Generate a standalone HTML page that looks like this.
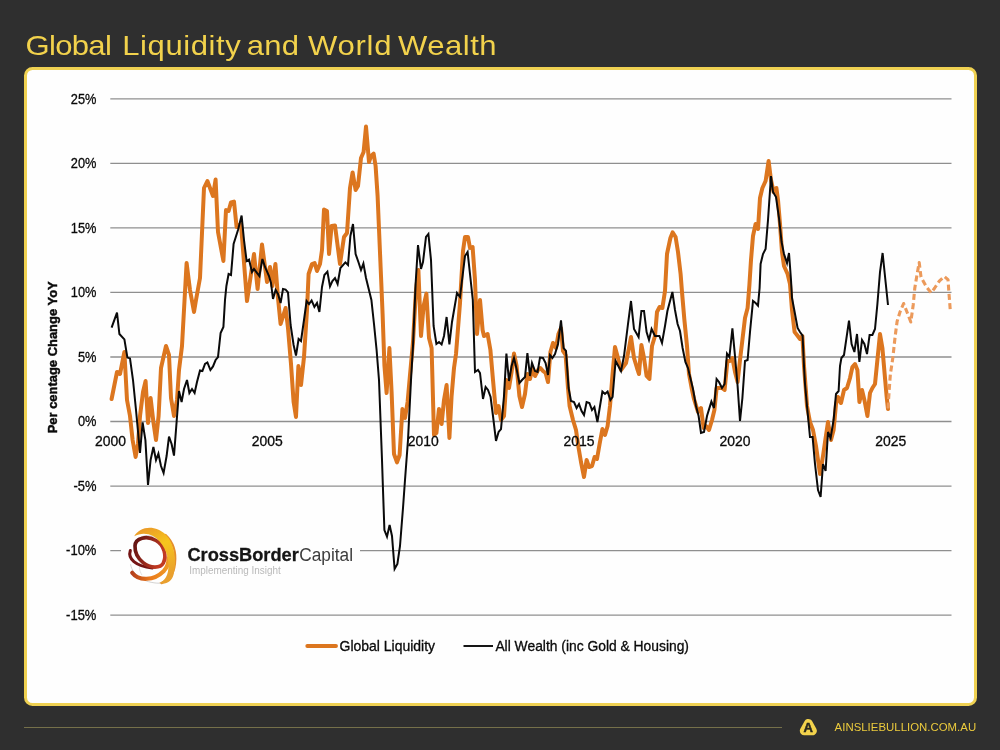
<!DOCTYPE html>
<html lang="en">
<head>
<meta charset="utf-8">
<title>Global Liquidity and World Wealth</title>
<style>
html,body{margin:0;padding:0;}
body{width:1000px;height:750px;overflow:hidden;background:#2f2f2f;font-family:"Liberation Sans","DejaVu Sans",sans-serif;position:relative;}
.title-wrap{margin:0;padding:0;position:absolute;left:0;top:0;width:1000px;height:66px;font-size:0;line-height:0;font-weight:400;}
.title{position:absolute;left:0;top:0;width:1000px;height:66px;}
.title text{font-family:"Liberation Sans",sans-serif;font-size:27px;font-weight:400;fill:#f2d24c;}
.panel{position:absolute;box-sizing:border-box;left:23.5px;top:67.4px;width:953.1px;height:638.3px;border:3px solid #efd152;border-radius:8.5px;background:#fefefe;}
.chart{position:absolute;left:0;top:0;width:1000px;height:750px;}
.chart text{font-family:"Liberation Sans","DejaVu Sans",sans-serif;font-size:14.1px;fill:#0a0a0a;stroke:#0a0a0a;stroke-width:0.3px;}
.grid line{stroke:#8f8f8f;stroke-width:1.4;}
.footer-line{position:absolute;left:24px;top:726.9px;width:758px;height:1px;background:#75704a;}
.footer-text{position:absolute;left:834.6px;top:718.3px;font-size:11.4px;line-height:18px;color:#eccb3d;letter-spacing:0.02px;white-space:nowrap;}
.footer-icon{position:absolute;left:796px;top:714px;width:26px;height:26px;}
</style>
</head>
<body>
<h1 class="title-wrap"><svg class="title" viewBox="0 0 1000 66"><text y="55.5" transform="scale(1.15 1)" xml:space="preserve"><tspan x="22.26" textLength="74.96" lengthAdjust="spacing">Global</tspan><tspan> </tspan><tspan x="106.26" textLength="103.13" lengthAdjust="spacing">Liquidity</tspan><tspan> </tspan><tspan x="214.61" textLength="45.39" lengthAdjust="spacing">and</tspan><tspan> </tspan><tspan x="267.83" textLength="72.52" lengthAdjust="spacing">World</tspan><tspan> </tspan><tspan x="346.09" textLength="85.74" lengthAdjust="spacing">Wealth</tspan></text></svg></h1>
<div class="panel"></div>
<svg class="chart" viewBox="0 0 1000 750">
<g class="grid"><line x1="110.3" x2="951.5" y1="98.9" y2="98.9"/><line x1="110.3" x2="951.5" y1="163.4" y2="163.4"/><line x1="110.3" x2="951.5" y1="227.9" y2="227.9"/><line x1="110.3" x2="951.5" y1="292.4" y2="292.4"/><line x1="110.3" x2="951.5" y1="357.0" y2="357.0"/><line x1="110.3" x2="951.5" y1="421.5" y2="421.5"/><line x1="110.3" x2="951.5" y1="486.1" y2="486.1"/><line x1="110.3" x2="951.5" y1="550.6" y2="550.6"/><line x1="110.3" x2="951.5" y1="615.1" y2="615.1"/></g>
<g class="ylabels"><text x="70.8" y="103.65" textLength="25.6" lengthAdjust="spacingAndGlyphs">25%</text><text x="70.8" y="168.15" textLength="25.6" lengthAdjust="spacingAndGlyphs">20%</text><text x="70.8" y="232.65" textLength="25.6" lengthAdjust="spacingAndGlyphs">15%</text><text x="70.8" y="297.15" textLength="25.6" lengthAdjust="spacingAndGlyphs">10%</text><text x="77.9" y="361.75" textLength="18.5" lengthAdjust="spacingAndGlyphs">5%</text><text x="77.9" y="426.25" textLength="18.5" lengthAdjust="spacingAndGlyphs">0%</text><text x="73.4" y="490.85" textLength="23.0" lengthAdjust="spacingAndGlyphs">-5%</text><text x="66.1" y="555.35" textLength="30.3" lengthAdjust="spacingAndGlyphs">-10%</text><text x="66.1" y="619.85" textLength="30.3" lengthAdjust="spacingAndGlyphs">-15%</text></g>
<text transform="translate(56.7 357.3) rotate(-90)" text-anchor="middle" style="font-weight:700;font-size:13.4px;stroke-width:0.45px" textLength="152" lengthAdjust="spacingAndGlyphs">Per centage Change YoY</text>
<polyline fill="none" stroke="#dc761f" stroke-width="4" stroke-linejoin="round" stroke-linecap="round" points="111.6,399 117,372 120,374 124.4,352 127,400 130,416 132.6,440 135.6,457 138,444 140,416 143,392 145.6,381 148,423 150.6,398 153.4,422 156,440 158.6,416 161,368 166,346 169,355 171,398 174,416 177,400 179,370 182,346 186.6,263 190,290 194,312 196,300 200,278 204,188 207.4,181 213,196 215.6,179.6 218,232 223.4,261 226,210 228.6,211 231,202.4 234,201.6 236.6,227 241,224 247,301 254,254 257.6,289 262,244.4 267,282 270,267 272.4,286 275.4,264 278,298 280.6,324 285.6,308 288,328 291,364 293.6,402 296,417 298.4,366 301,385 304,357 307,310 308.6,274 312,264 314.6,263 317,271 320,264 322,250 324,209.6 327,211 329,254 331.6,226 335,225.6 340,264 344,237 347,233 350,188 352.6,172.4 355.6,190 358,186 361,158 363.6,152 366,126.6 369,162 371,156 373.6,153.6 375.6,166 377.6,196 379,229 381,276 382.6,314 384.4,365 386.6,393 389.4,348 391.6,392 394,454 397,462.4 399.6,455 402.4,409 405,418 407.6,402 410,375 413,342 416,290 418.4,270 421,336 423.6,306 426.4,293.6 429,338 431.6,348 434,435 436.4,433 439,409 441.6,424 444,400 446.6,385 449.4,438 451.6,396 454,368 456,354 460,303 463,251 465,237 468,237 470,248 472.6,247 475,280 477,334 480,300 482.6,330 484,336 487.6,334 490.4,350 493,380 496,413 498.6,406 501,420 504,416 506.4,380 509,388 511.6,372 514,353.6 516.6,366 519.4,396 522,407 525,394 527.4,374 530,379 532.4,368 535,376 538,370 540.4,368 543,371 545.6,373 548,382 550.4,352 553,343 556,348 558.4,334 561,328 563,351 565.6,355 568,388 569.6,406 573,420 576,430 578.6,448 581,462 584,477 586.6,460 589,467 592,466 594.6,457 597,459 599.6,444 602.4,429 605,435 607.6,426 610,406 612.4,376 615,347 618,358 621,370 626,363 629,348 631,337 634,358 637,368 639,374 641.4,345 644,358 646.6,376 649.4,379 652,346 655,336 657,312 659.6,307 662.4,308 665,291 667,254 670.4,238 672.6,232.4 675.6,237 678,252 680.6,274 682,292 684.4,320 687,346 689,374 691.6,388 694,399 698,412 701,408 703.6,428 706,426 709,430 712,420 714.4,410 716.6,388 719,388 722,388 724.6,390 727.4,361 730,361 732.4,358 735,372 737.6,382 740,360 742.4,340 745,318 747.6,308 749.4,285 751,260 753,236 755.6,224 758,229 760,198 762.4,188 765.6,181 768.6,161 771,180 773.6,192 776.4,188 778,200 780,224 782,252 784,266 787.6,274 790,284 792,310 794.6,332 797,335 800,339 802.4,336 804,366 806,392 807,406 810,422 813,430 816,446 820,474 823,456 825.6,438 828,422 831,440 833.6,430 836,404 838,397 841,403 844,390 847,388 850,378 852.4,367 855,364 857.4,370 859.4,402 862,390 864.4,400 867.4,416 870,393 872.4,388 875,384 877.4,360 880,334 882.4,348 885,378 886.6,396 888,409"/>
<polyline fill="none" stroke="#ec9a5b" stroke-width="3.1" stroke-linejoin="round" stroke-dasharray="6 3.3" points="888,408.5 889.2,390 890.4,374 892.8,358 895.2,336 897.1,321.5 900,312 903.6,303.5 907,312 910.8,322 913.2,305 914.8,288 916.8,276 919.2,262.5 921,277 926.4,286.8 931.2,292.8 934.7,288 939.5,280.8 944.3,276.5 948,279.6 949.1,295 950.3,310.7"/>
<polyline fill="none" stroke="#0a0a0a" stroke-width="2" stroke-linejoin="miter" points="111.6,327.6 117,312.6 119.4,334 124.4,339.4 127.4,357.6 130,358.4 133,380 136,410 140,453 142.6,422.4 145.4,440 148,485 150.6,460 153.4,447 156,460 158.4,453.6 161,466 163.6,473 166.6,456 169,436.6 171.6,444 174,455.6 176.6,422 179,391 181.6,402 184,389 187,380 189.4,393 192,389 194.6,393 197,382 200,370.4 202.4,371 205,364 207.4,362.4 210.4,370 213,366.4 215.6,360 218,357 220.6,333 223.4,327 225,300 226.4,286 228.6,274 231,275 233.6,244 238,230 241.6,215.6 244,240 246.6,261 249,259.6 252,272 254,269 259.4,276 262.4,259 265,267 269,276 271,283 273,299 275.6,290 278,294 280.6,303 283,289 285.6,289.6 288,292.4 290.6,325 293.6,345 296,355.6 298.6,339 301,341 304,320 306.6,301 309,304 311.6,300.4 314.4,307 317,303 319.4,312 322,287 324.4,275 327.4,271.6 330,286.4 332.4,281 335,278 337.6,284 340.4,268 345.4,262.4 348,265 350.4,236 353,224 355.6,254 358.4,262 361,270 363.4,263.6 366,278 371.4,300 374,324 376.6,350 379,380 382,460 383,490 384.4,530 387,536.6 389.6,525 392,536 394.6,569 397.4,564 400,546 403,508 405,480 408,440 411,380 413,346 415.6,284 418,245 421,269 423,262 426,237 428.4,234 431,260 433.6,326 436.4,344 439,342 441.6,344.4 444,336 446.6,317 449.4,344.4 452,322 457,293 460,297 465,256 467.6,252 470,274 472.8,300 475,372 478,370 480,373 483,399 485.6,387 488,390 490.6,397 493,416 496,441 498.6,432 501,429 504,396 506.4,353.6 509,381 511.6,366 514,358 516.6,369 519.4,383 522,380 525,377 527.4,353 530,376 532,363 535,371 537.6,372 540,357.6 543,358 545.6,363 548,375 550,355 552.4,358 555,354 558,344 561,320.4 563.6,348 566,351 568.6,388 571,401 574,402 576.6,408 579,404 581.6,411 584,415 586.6,402 589.4,403 592,410 594.4,407 597.4,422 600,406 602.4,391.6 605,394 607.6,391.6 610.4,400 612.6,397 615.6,361 621,371 624,356 628,324 631,301 634,329 638.6,337 641.4,311 644,311 646.6,332 649,340 651.6,329 655,336 659.4,336 662,343 665,326 667.4,311 672.4,292 675,310 677.6,324 680,331 682.6,348 685.4,362 688,368 693,389 696,406 698.6,416 701,433 704,432 707,416 711.4,401.6 714,408 716.6,379 719,382 722,388 724.6,384 727,353.6 729.4,357 732.4,328.4 735,356 737.6,386 740,421 742.4,398 745,361 747.6,360 750,332 753,301 755.6,303 758,305.6 759.6,288 760.6,264 763,254 765.6,249 768,220 771,176 773,192 776,197 779,218 781.6,242 784,254 787,263 789,253 791,280 792,298 795,314 797.6,328 800,332 802.6,335.6 804,366 805,384 807,406 810,437 812.6,437 815,464 818,490 820.6,497 823,464 825.6,471 828,432 830.6,438 833.6,420 836,394 838.6,391 840,366 841.4,358 844,355 849,320.6 851.6,344 854.4,352 857,334 859.4,362 862,340 864.4,344 867,354 869.6,335 872.4,335 875,329 877.4,304 880,272 882.6,253 885.6,282 888,305"/>
<g class="xlabels"><text x="110.6" y="445.8" text-anchor="middle" textLength="31" lengthAdjust="spacingAndGlyphs">2000</text><text x="267.3" y="445.8" text-anchor="middle" textLength="31" lengthAdjust="spacingAndGlyphs">2005</text><text x="423.2" y="445.8" text-anchor="middle" textLength="31" lengthAdjust="spacingAndGlyphs">2010</text><text x="579" y="445.8" text-anchor="middle" textLength="31" lengthAdjust="spacingAndGlyphs">2015</text><text x="735.1" y="445.8" text-anchor="middle" textLength="31" lengthAdjust="spacingAndGlyphs">2020</text><text x="890.8" y="445.8" text-anchor="middle" textLength="31" lengthAdjust="spacingAndGlyphs">2025</text></g>
<g class="logo">
<rect x="121" y="521" width="239" height="70" fill="#fefefe"/>
<defs>
<linearGradient id="lgY" x1="0" y1="0" x2="0.3" y2="1"><stop offset="0" stop-color="#e8922a"/><stop offset="0.45" stop-color="#f7c51d"/><stop offset="1" stop-color="#e9a02e"/></linearGradient>
<linearGradient id="lgR" x1="0" y1="0" x2="1" y2="0.4"><stop offset="0" stop-color="#5e1212"/><stop offset="1" stop-color="#c23a22"/></linearGradient>
<linearGradient id="lgO" x1="0" y1="0" x2="1" y2="0"><stop offset="0" stop-color="#b5401c"/><stop offset="0.5" stop-color="#ea7a1c"/><stop offset="1" stop-color="#f09a24"/></linearGradient>
</defs>
<g transform="translate(120 518) scale(0.1014)" fill="none" stroke-linecap="round">
<path d="M105,460 C120,570 260,655 420,642" stroke="#cfcdcc" stroke-width="9"/>
<path d="M150,250 C200,150 330,140 410,250" stroke="#dcdad9" stroke-width="9"/>
<path d="M215,560 C190,520 180,470 200,420" stroke="#d6d4d3" stroke-width="7"/>
<path d="M102,320 C75,400 150,475 320,492" stroke="#741414" stroke-width="30"/>
<path d="M120,540 C185,625 335,620 430,525 C468,485 482,440 476,395" stroke="url(#lgO)" stroke-width="40"/>
<path d="M148,275 C150,195 265,170 355,222 C435,268 462,372 428,442 C398,498 300,498 228,440 C170,392 145,340 148,275 Z" stroke="url(#lgR)" stroke-width="36" stroke-linejoin="round"/>
<path d="M450,168 C525,238 556,330 542,450 C532,540 495,612 410,642" stroke="#e58f2c" stroke-width="22"/>
<path d="M140,180 C195,80 350,62 452,165 C535,250 565,420 528,560 C510,625 455,660 385,642 C445,618 478,560 478,470 C478,350 420,232 325,178 C265,146 195,150 140,180 Z" fill="url(#lgY)" stroke="none"/>
</g>
<text x="187.4" y="560.8" style="font-size:19.2px;font-weight:700;fill:#151515;stroke:#151515;stroke-width:0.3px" textLength="111.4" lengthAdjust="spacingAndGlyphs">CrossBorder</text>
<text x="299.2" y="560.8" style="font-size:19.2px;fill:#3d3d3d;stroke:none" textLength="53.8" lengthAdjust="spacingAndGlyphs">Capital</text>
<text x="189.2" y="573.5" style="font-size:10.6px;fill:#b9b9b9;stroke:none" textLength="91.5" lengthAdjust="spacingAndGlyphs">Implementing Insight</text>
</g>
<g class="legend">
<line x1="307.3" x2="336" y1="646" y2="646" stroke="#dc761f" stroke-width="3.9" stroke-linecap="round"/>
<text x="339.6" y="650.7" textLength="95.5" lengthAdjust="spacingAndGlyphs">Global Liquidity</text>
<line x1="463.5" x2="493" y1="646" y2="646" stroke="#0a0a0a" stroke-width="1.9"/>
<text x="495.4" y="650.7" textLength="193.6" lengthAdjust="spacingAndGlyphs">All Wealth (inc Gold &amp; Housing)</text>
</g>
</svg>
<div class="footer-line"></div>
<svg class="footer-icon" viewBox="796 714 26 26">
<path d="M808.35 723.3 L812.5 730.8 L804.2 730.8 Z" fill="#f2d24c" stroke="#f2d24c" stroke-width="8.8" stroke-linejoin="round"/>
<text x="808.3" y="731.6" text-anchor="middle" style="font-family:'Liberation Sans',sans-serif;font-weight:700;font-size:13px;fill:#26261e;stroke:#26261e;stroke-width:0.5px">A</text>
</svg>
<div class="footer-text">AINSLIEBULLION.COM.AU</div>
</body>
</html>
